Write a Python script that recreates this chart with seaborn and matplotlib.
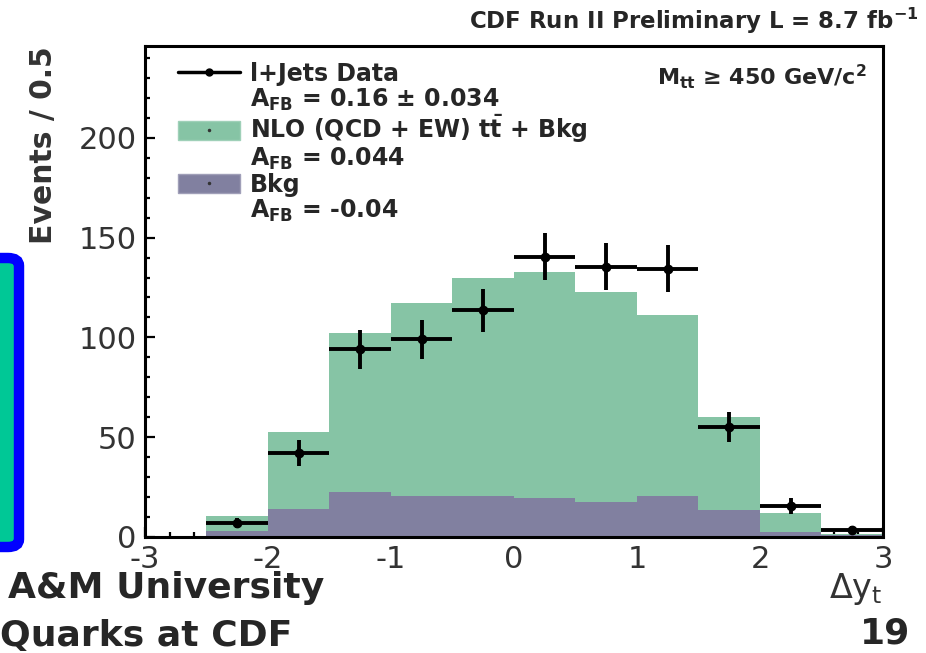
import numpy as np
import pandas as pd
import seaborn as sns
import matplotlib.pyplot as plt
from matplotlib.lines import Line2D
from matplotlib.patches import Patch, FancyBboxPatch

# binning in delta y (width 0.5)
bin_edges = [-3.0, -2.5, -2.0, -1.5, -1.0, -0.5, 0.0, 0.5, 1.0, 1.5, 2.0, 2.5, 3.0]
bin_centers = [-2.75, -2.25, -1.75, -1.25, -0.75, -0.25, 0.25, 0.75, 1.25, 1.75, 2.25, 2.75]

# NLO ttbar + bkg (stack total) and bkg alone
pred_total = [0.5, 10.5, 52.5, 102, 117, 130, 133, 123, 111, 60, 12, 1.5]
pred_bkg = [0.5, 3, 14, 22.5, 20.5, 20.5, 19.5, 17.5, 20.5, 13.5, 2.7, 1]

# l+jets data points
data_x = [-2.25, -1.75, -1.25, -0.75, -0.25, 0.25, 0.75, 1.25, 1.75, 2.25, 2.75]
data_y = [7, 42, 94, 99, 113.5, 140.5, 135.5, 134.5, 55, 15.5, 3.5]
data_err = [2.6, 6.5, 9.7, 9.9, 10.7, 11.9, 11.6, 11.6, 7.4, 3.9, 1.9]

green = '#86C4A5'
purple = '#8180A0'

sns.set_style('ticks')
plt.rcParams['font.family'] = ['DejaVu Sans']
plt.rcParams['mathtext.default'] = 'regular'
plt.rcParams['axes.unicode_minus'] = False

hist_df = pd.DataFrame({'dy': bin_centers, 'total': pred_total, 'bkg': pred_bkg})

fig = plt.figure(figsize=(9.26, 6.53), dpi=100)
ax = fig.add_axes([145 / 926, 116 / 653, 738 / 926, 491 / 653])

sns.histplot(data=hist_df, x='dy', weights='total', bins=bin_edges, element='step',
             fill=True, color=green, alpha=1, linewidth=0, ax=ax)
sns.histplot(data=hist_df, x='dy', weights='bkg', bins=bin_edges, element='step',
             fill=True, color=purple, alpha=1, linewidth=0, ax=ax)

ax.errorbar(data_x, data_y, xerr=0.25, yerr=data_err, fmt='o', color='black',
            markersize=6, elinewidth=2.8, capsize=0, zorder=5)

ax.set_xlim(-3, 3)
ax.set_ylim(0, 246)
ax.set_xticks(range(-3, 4))
ax.set_xticks(np.arange(-3, 3.01, 0.2), minor=True)
ax.set_yticks(range(0, 201, 50))
ax.set_yticks(range(0, 241, 10), minor=True)
ax.tick_params(which='both', direction='in', color='black', width=1.6,
               labelsize=22, labelcolor='#333333', pad=6)
ax.tick_params(which='major', length=7.5)
ax.tick_params(which='minor', length=3.8)
for s in ax.spines.values():
    s.set_linewidth(2.2)
    s.set_color('black')

ax.set_ylabel('Events / 0.5', fontsize=21.5, fontweight='bold', color='#333333', loc='top')
ax.yaxis.set_label_coords(-0.118, 1.0)
ax.set_xlabel('Δy$_{t}$', fontsize=24, color='#333333', loc='right')
ax.xaxis.set_label_coords(1.0, -0.07)

# legend, one row per text line so the handles sit on the first line
blank = Line2D([], [], linestyle='none')
dot = Line2D([], [], marker='.', markersize=3, color='#333333', linestyle='none')
handles = [Line2D([], [], color='black', marker='o', lw=2.5, markersize=5),
           blank,
           (Patch(facecolor=green, edgecolor='#9fd0b8'), dot),
           blank,
           (Patch(facecolor=purple, edgecolor='#a09fb8'), dot),
           blank]
labels = ['l+Jets Data',
          'A$_{FB}$ = 0.16 ± 0.034',
          r'NLO (QCD + EW) t$\bar{t}$ + Bkg',
          'A$_{FB}$ = 0.044',
          'Bkg',
          'A$_{FB}$ = -0.04']
ax.legend(handles, labels, loc='upper left', bbox_to_anchor=(0.0447, 0.968),
          frameon=False, borderaxespad=0, borderpad=0, labelspacing=0.03,
          handlelength=2.63, handleheight=0.85, handletextpad=0.42,
          prop={'size': 17, 'weight': 'bold'})

ax.text(0.978, 0.966, 'M$_{tt}$ ≥ 450 GeV/c$^{2}$', transform=ax.transAxes,
        ha='right', va='top', fontsize=16, fontweight='bold')
fig.text(918 / 926, 1 - 21 / 653, 'CDF Run II Preliminary L = 8.7 fb$^{-1}$',
         ha='right', va='center', fontsize=16.5, fontweight='bold')

# slide decorations around the plot
box = FancyBboxPatch((-30 / 926, 1 - 547 / 653), 49 / 926, 289 / 653,
                     boxstyle='round,pad=0,rounding_size=0.012', transform=fig.transFigure,
                     facecolor='#00C896', edgecolor='#0000FF', linewidth=7.5, zorder=3)
fig.patches.append(box)
fig.text(8 / 926, 1 - 588 / 653, 'A&M University', ha='left', va='center',
         fontsize=26, fontweight='bold')
fig.text(0, 1 - 636 / 653, 'Quarks at CDF', ha='left', va='center',
         fontsize=26, fontweight='bold')
fig.text(910 / 926, 1 - 634 / 653, '19', ha='right', va='center',
         fontsize=26, fontweight='bold')

fig.savefig('out.png', dpi=100)
